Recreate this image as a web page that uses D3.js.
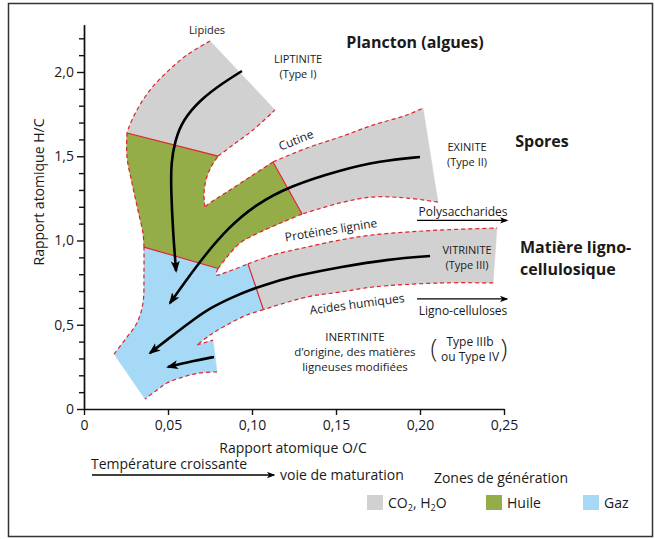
<!DOCTYPE html>
<html><head><meta charset="utf-8">
<script src="https://cdn.jsdelivr.net/npm/d3@7"></script>
<style>
body{margin:0;background:#fff;}
svg text{font-family:"Open Sans","Noto Sans",sans-serif;fill:#1a1a1a;}
</style></head>
<body><svg id="c" width="655" height="539"></svg>
<script>
// ---------- axes ----------
const xTicks = [0, 0.05, 0.10, 0.15, 0.20, 0.25];
const xTickLabels = ["0", "0,05", "0,10", "0,15", "0,20", "0,25"];
const yTicks = [0, 0.5, 1.0, 1.5, 2.0];
const yTickLabels = ["0", "0,5", "1,0", "1,5", "2,0"];
const yMinorTicks = [0.1,0.2,0.3,0.4,0.6,0.7,0.8,0.9,1.1,1.2,1.3,1.4,1.6,1.7,1.8,1.9,2.1,2.2];

// ---------- zone edges (O/C, H/C) ----------
const typeI_outer = [[0.075,2.184],[0.0613,2.101],[0.0494,2.000],[0.0393,1.893],[0.0315,1.774],[0.0268,1.674],[0.0256,1.638]];
const typeI_div = [[0.0256,1.638],[0.0798,1.501]];
const typeI_inner = [[0.0798,1.501],[0.0887,1.567],[0.1006,1.656],[0.1137,1.775]];
const typeI_cap = [[0.1137,1.775],[0.075,2.184]];

const green_left = [[0.0256,1.638],[0.0256,1.496],[0.0286,1.341],[0.0321,1.181],[0.0351,1.044],[0.0357,0.961]];
const greenGas_div = [[0.0357,0.961],[0.0798,0.834]];
const green_lower = [[0.0798,0.834],[0.0851,0.902],[0.0929,0.985],[0.1048,1.050],[0.1185,1.110],[0.1298,1.157]];
const typeII_div = [[0.1298,1.157],[0.1125,1.466]];
const green_upper = [[0.1125,1.466],[0.0988,1.377],[0.0851,1.288],[0.0750,1.223],[0.0720,1.199]];
const green_notch = [[0.0720,1.199],[0.0714,1.270],[0.0726,1.359],[0.0756,1.436],[0.0798,1.501]];

const typeII_top = [[0.1125,1.466],[0.1327,1.549],[0.1524,1.614],[0.1720,1.685],[0.1923,1.745],[0.2018,1.786]];
const typeII_cap = [[0.2018,1.786],[0.2107,1.228]];
const typeII_bottom = [[0.2107,1.228],[0.1923,1.252],[0.1720,1.258],[0.1524,1.223],[0.1298,1.157]];

const typeIII_top = [[0.0976,0.861],[0.1125,0.914],[0.1327,0.961],[0.1524,1.003],[0.1720,1.033],[0.1923,1.050],[0.2119,1.062],[0.2458,1.074]];
const typeIII_cap = [[0.2458,1.074],[0.2435,0.748]];
const typeIII_bottom = [[0.2435,0.748],[0.2119,0.748],[0.1720,0.724],[0.1524,0.694],[0.1327,0.665],[0.1068,0.590]];
const typeIII_div = [[0.1068,0.590],[0.0976,0.861]];

const gas_notch = [[0.0798,0.834],[0.0786,0.795],[0.0851,0.813],[0.0976,0.861]];
const gas_lower3 = [[0.1068,0.590],[0.0970,0.558],[0.0851,0.499],[0.0750,0.439],[0.0673,0.380]];
const gas_notch4 = [[0.0673,0.380],[0.0768,0.409]];
const typeIV_cap = [[0.0768,0.409],[0.0792,0.220]];
const gas_bottom = [[0.0792,0.220],[0.0690,0.214],[0.0589,0.190],[0.0494,0.154],[0.0435,0.113],[0.0363,0.059]];
const gas_cap = [[0.0363,0.059],[0.0179,0.326]];
const gas_left = [[0.0179,0.326],[0.0256,0.427],[0.0315,0.510],[0.0351,0.629],[0.0357,0.807],[0.0357,0.961]];

// ---------- maturation paths ----------
const pathI = [[0.0940,2.006],[0.0827,1.935],[0.0690,1.834],[0.0589,1.715],[0.0542,1.596],[0.0518,1.460],[0.0518,1.300],[0.0530,1.045],[0.0548,0.819]];
const pathII = [[0.2000,1.496],[0.1762,1.472],[0.1524,1.418],[0.1226,1.323],[0.1018,1.211],[0.0857,1.074],[0.0720,0.914],[0.0601,0.754],[0.0512,0.629]];
const pathIII = [[0.2060,0.908],[0.1821,0.890],[0.1524,0.843],[0.1286,0.795],[0.1125,0.754],[0.0988,0.706],[0.0887,0.665],[0.0750,0.599],[0.0649,0.528],[0.0554,0.457],[0.0393,0.332]];
const pathIV = [[0.0774,0.309],[0.0649,0.285],[0.0500,0.249]];

// ---------- labels ----------
const smallLabels = [
  {t:"Lipides", p:[0.0732,2.249], s:11, r:0},
  {t:"LIPTINITE", p:[0.1274,2.077], s:11, r:0},
  {t:"(Type I)", p:[0.1274,1.988], s:11, r:0},
  {t:"Cutine", p:[0.1262,1.596], s:12, r:-22},
  {t:"EXINITE", p:[0.2280,1.555], s:11, r:0},
  {t:"(Type II)", p:[0.2280,1.466], s:11, r:0},
  {t:"Polysaccharides", p:[0.2256,1.169], s:12, r:0},
  {t:"Protéines lignine", p:[0.1470,1.062], s:12, r:-9},
  {t:"VITRINITE", p:[0.2280,0.944], s:11, r:0},
  {t:"(Type III)", p:[0.2280,0.855], s:11, r:0},
  {t:"Acides humiques", p:[0.1625,0.623], s:12, r:-7.5},
  {t:"Ligno-celluloses", p:[0.2256,0.582], s:12, r:0},
  {t:"INERTINITE", p:[0.1613,0.427], s:11.5, r:0},
  {t:"d’origine, des matières", p:[0.1613,0.338], s:11.5, r:0},
  {t:"ligneuses modifiées", p:[0.1613,0.249], s:11.5, r:0},
  {t:"Type IIIb", p:[0.2298,0.398], s:12, r:0},
  {t:"ou Type IV", p:[0.2298,0.309], s:12, r:0}
];
const boldLabels = [
  {t:"Plancton (algues)", p:[0.1970,2.178], a:"middle"},
  {t:"Spores", p:[0.2726,1.591], a:"middle"},
  {t:"Matière ligno-", p:[0.2595,0.961], a:"start"},
  {t:"cellulosique", p:[0.2595,0.831], a:"start"}
];
const sideArrows = [[[0.1982,1.119],[0.2518,1.119]], [[0.1982,0.653],[0.2518,0.653]]];
const parens = [{t:"(", p:[0.2083,0.362]}, {t:")", p:[0.2500,0.362]}];

const legendItems = ["CO2", "Huile", "Gaz"];
const legendColors = ["#d1d1d1", "#94ad48", "#a6d9f5"];

// ---------- drawing ----------
const svg = d3.select("#c");
const x = d3.scaleLinear().domain([0, 0.25]).range([84, 504]);
const y = d3.scaleLinear().domain([0, 2.28]).range([409, 409 - 2.28*168.5]);

svg.append("rect").attr("x",8.5).attr("y",3.5).attr("width",644).attr("height",533)
  .attr("fill","none").attr("stroke","#333").attr("stroke-width",1.5);

const RED = "#e3222b";
function rev(a){ return a.slice().reverse(); }
function poly(edges){
  let d = "";
  edges.forEach((e,i)=>{
    const l = d3.line().x(p=>x(p[0])).y(p=>y(p[1]))
       .curve(e.length>2 ? d3.curveCatmullRom.alpha(0.5) : d3.curveLinear);
    const s = l(e);
    d += i===0 ? s : s.replace(/^M/, "L");
  });
  return d + "Z";
}

const zones = [
  {c:legendColors[0], e:[typeI_outer, typeI_div, typeI_inner, typeI_cap]},
  {c:legendColors[1], e:[green_left, greenGas_div, green_lower, typeII_div, green_upper, green_notch, rev(typeI_div)]},
  {c:legendColors[0], e:[typeII_top, typeII_cap, typeII_bottom, typeII_div]},
  {c:legendColors[0], e:[typeIII_top, typeIII_cap, typeIII_bottom, typeIII_div]},
  {c:legendColors[2], e:[greenGas_div, gas_notch, rev(typeIII_div), gas_lower3, gas_notch4, typeIV_cap, gas_bottom, gas_cap, gas_left]}
];
const gZ = svg.append("g");
zones.forEach(z=>{
  gZ.append("path").attr("d", poly(z.e)).attr("fill", z.c).attr("stroke", z.c).attr("stroke-width",0.5);
});

const dashed = [typeI_outer, typeI_inner, green_left, green_lower, green_upper, green_notch,
  typeII_top, typeII_bottom, typeIII_top, typeIII_bottom, gas_notch, gas_lower3, gas_notch4, gas_bottom, gas_left];
const solid = [typeI_div, greenGas_div, typeII_div, typeIII_div];
const lineGen = d3.line().x(d=>x(d[0])).y(d=>y(d[1]));
dashed.forEach(p=>{
  gZ.append("path").attr("d", lineGen.curve(p.length>2?d3.curveCatmullRom.alpha(0.5):d3.curveLinear)(p))
    .attr("fill","none").attr("stroke",RED).attr("stroke-width",1.2).attr("stroke-dasharray","4,3");
});
solid.forEach(p=>{
  gZ.append("path").attr("d", lineGen.curve(d3.curveLinear)(p))
    .attr("fill","none").attr("stroke",RED).attr("stroke-width",1.2);
});

// markers
const defs = svg.append("defs");
defs.append("marker").attr("id","ah").attr("viewBox","0 -5 12 10").attr("refX",10).attr("refY",0)
  .attr("markerWidth",12).attr("markerHeight",10).attr("markerUnits","userSpaceOnUse").attr("orient","auto")
  .append("path").attr("d","M0,-4.5L12,0L0,4.5L3,0Z").attr("fill","#000");
defs.append("marker").attr("id","ahs").attr("viewBox","0 -5 12 10").attr("refX",10).attr("refY",0)
  .attr("markerWidth",9).attr("markerHeight",7).attr("markerUnits","userSpaceOnUse").attr("orient","auto")
  .append("path").attr("d","M0,-4.5L12,0L0,4.5L3,0Z").attr("fill","#000");

[pathI, pathII, pathIII, pathIV].forEach(p=>{
  svg.append("path").attr("d", lineGen.curve(d3.curveBasis)(p))
    .attr("fill","none").attr("stroke","#000").attr("stroke-width",2.6).attr("marker-end","url(#ah)");
});

// axes
const xAxis = d3.axisBottom(x).tickValues(xTicks).tickFormat((d,i)=>xTickLabels[i]).tickSize(6).tickSizeOuter(0).tickPadding(5);
const gx = svg.append("g").attr("transform","translate(0,409)").call(xAxis);
gx.selectAll("text").attr("font-size",14).attr("font-family","Open Sans").attr("fill","#1a1a1a");
const yAxis = d3.axisLeft(y).tickValues(yTicks).tickFormat((d,i)=>yTickLabels[i]).tickSize(7).tickSizeOuter(0).tickPadding(3);
const gy = svg.append("g").attr("transform","translate(84,0)").call(yAxis);
gy.selectAll("text").attr("font-size",14).attr("font-family","Open Sans").attr("fill","#1a1a1a");
const yMinor = d3.axisLeft(y).tickValues(yMinorTicks).tickSize(5).tickFormat("").tickSizeOuter(0);
const gym = svg.append("g").attr("transform","translate(84,0)").call(yMinor);
[gx,gy,gym].forEach(g=>{ g.selectAll("line,path").attr("stroke","#111").attr("stroke-width",1.4); });

// axis titles
svg.append("text").attr("x",293).attr("y",448).attr("dy","0.35em").attr("text-anchor","middle")
  .attr("font-size",14).text("Rapport atomique O/C");
svg.append("text").attr("transform","translate(39,192) rotate(-90)").attr("dy","0.35em").attr("text-anchor","middle")
  .attr("font-size",14).text("Rapport atomique H/C");

// labels
smallLabels.forEach(l=>{
  svg.append("text").attr("transform",`translate(${x(l.p[0])},${y(l.p[1])}) rotate(${l.r})`)
    .attr("dy","0.35em").attr("text-anchor","middle").attr("font-size",l.s).text(l.t);
});
boldLabels.forEach(l=>{
  svg.append("text").attr("x",x(l.p[0])).attr("y",y(l.p[1])).attr("dy","0.35em").attr("text-anchor",l.a)
    .attr("font-size",16).attr("font-weight","bold").text(l.t);
});
parens.forEach(l=>{
  svg.append("text").attr("x",x(l.p[0])).attr("y",y(l.p[1])).attr("dy","0.35em").attr("text-anchor","middle")
    .attr("font-size",25).attr("font-weight",300).text(l.t);
});
sideArrows.forEach(a=>{
  svg.append("path").attr("d", lineGen.curve(d3.curveLinear)(a)).attr("stroke","#000").attr("stroke-width",1.3)
    .attr("fill","none").attr("marker-end","url(#ahs)");
});

// bottom notes
svg.append("text").attr("x",91).attr("y",464).attr("dy","0.35em").attr("font-size",14).text("Température croissante");
svg.append("path").attr("d","M92,475L274,475").attr("stroke","#000").attr("stroke-width",1.3).attr("marker-end","url(#ahs)");
svg.append("text").attr("x",280).attr("y",475).attr("dy","0.35em").attr("font-size",14).text("voie de maturation");
svg.append("text").attr("x",501).attr("y",478).attr("dy","0.35em").attr("text-anchor","middle").attr("font-size",14).text("Zones de génération");

// legend
const lgX = [367, 486, 583];
legendItems.forEach((name,i)=>{
  svg.append("rect").attr("x",lgX[i]).attr("y",495).attr("width",16).attr("height",15).attr("fill",legendColors[i]);
  const t = svg.append("text").attr("x",lgX[i]+21).attr("y",503).attr("dy","0.35em").attr("font-size",14);
  if(name==="CO2"){
    t.append("tspan").text("CO");
    t.append("tspan").attr("font-size",9).attr("dy",3).text("2");
    t.append("tspan").attr("dy",-3).text(", H");
    t.append("tspan").attr("font-size",9).attr("dy",3).text("2");
    t.append("tspan").attr("dy",-3).text("O");
  } else t.text(name);
});
</script></body></html>
